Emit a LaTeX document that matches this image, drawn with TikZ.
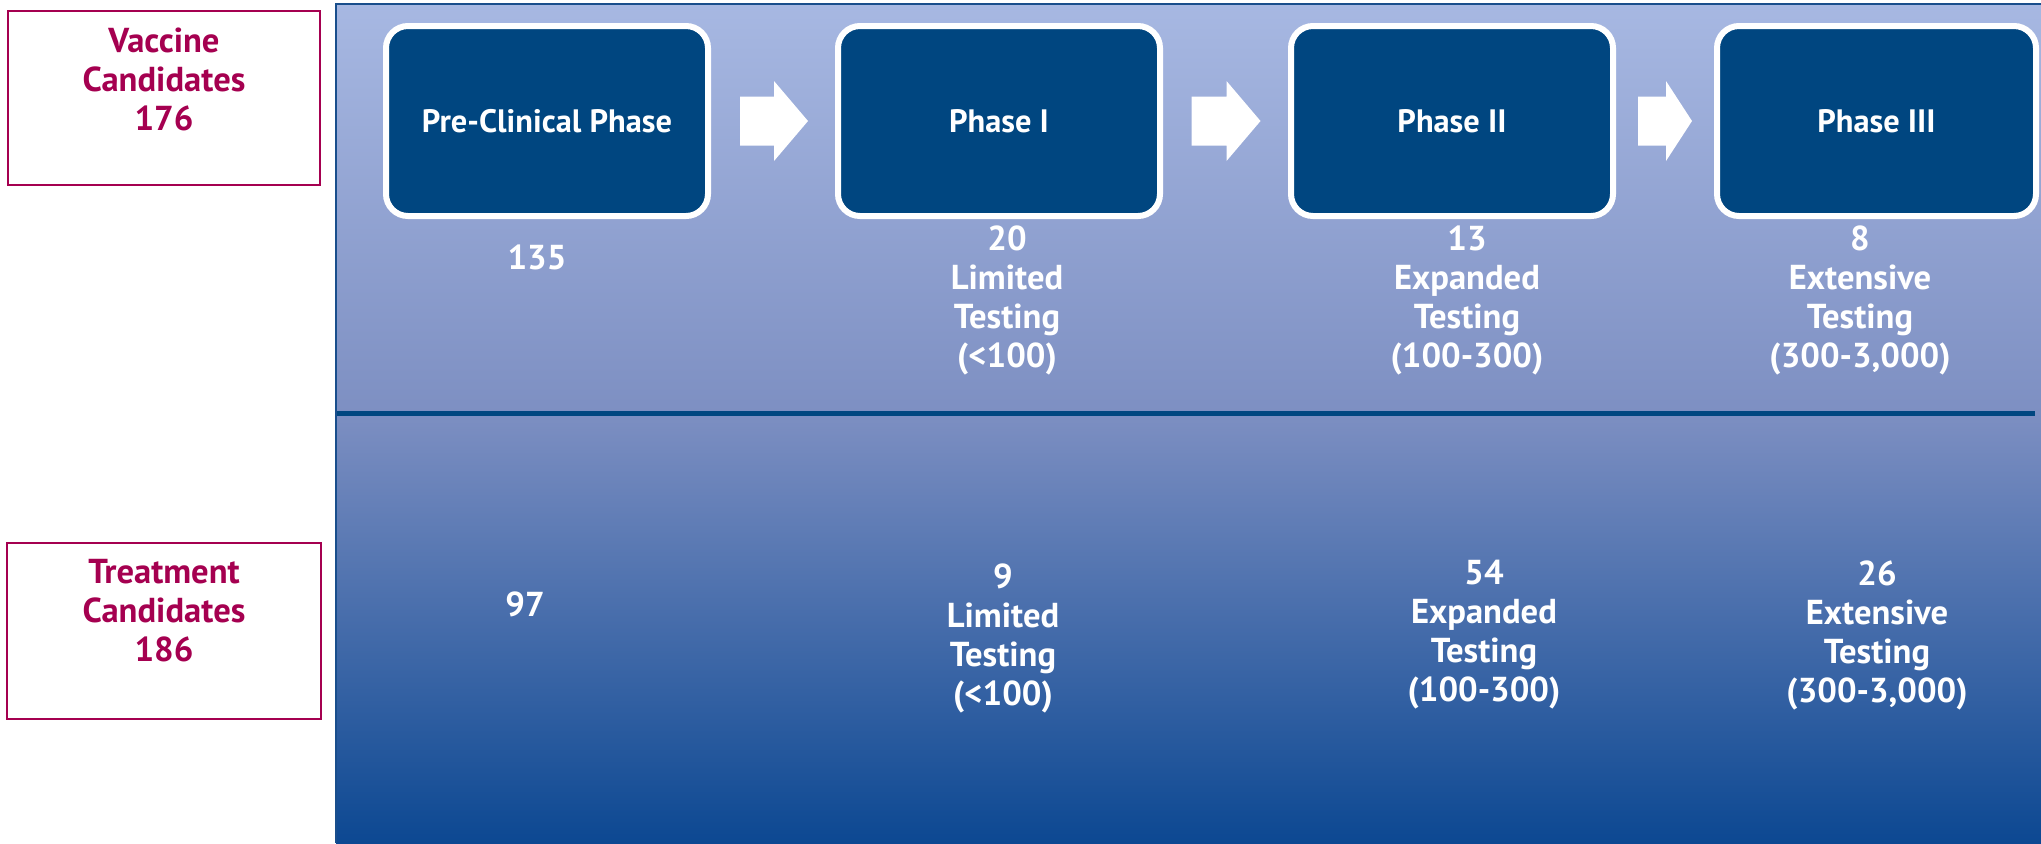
\documentclass[tikz,border=0pt]{standalone}
\usepackage{fontspec}
\setmainfont{PT Sans}
\usetikzlibrary{calc}
\definecolor{magent}{RGB}{165,0,80}
\definecolor{phaseblue}{RGB}{0,70,128}
\definecolor{ptop}{RGB}{167,184,226}
\definecolor{pmid}{RGB}{125,143,194}
\definecolor{pbot}{RGB}{12,72,146}
\definecolor{pedge}{RGB}{25,78,140}
\tikzset{
  candbox/.style={draw=magent, line width=1pt, inner sep=0pt},
  candtext/.style={text=magent, font=\fontsize{17.3}{19.5}\selectfont\bfseries, align=center, inner sep=0pt},
  phasebox/.style={draw=white, line width=3pt, fill=phaseblue, rounded corners=11pt,
    minimum width=161pt, minimum height=95pt, inner sep=0pt, text=white,
    font=\fontsize{16.2}{18}\selectfont\bfseries},
  stat/.style={text=white, font=\fontsize{17.3}{19.5}\selectfont\bfseries, align=center, inner sep=0pt},
  blockfill/.style={fill=white}
}
\begin{document}
\begin{tikzpicture}[x=0.5pt,y=-0.5pt]
\useasboundingbox (0,0) rectangle (2041,843);
\fill[white] (0,0) rectangle (2041,843);
% panel background
\shade[top color=ptop, bottom color=pmid] (336,4) rectangle (2041,414);
\shade[top color=pmid, bottom color=pbot] (336,413) rectangle (2041,843);
\draw[pedge, line width=1pt] (336,843) -- (336,4) -- (2041,4);
% divider
\draw[phaseblue, line width=2.5pt] (337,413.5) -- (2035,413.5);
% candidate boxes
\node[candbox, minimum width=156pt, minimum height=87pt] (vacbox) at (164,98) {};
\node[candtext] (vactext) at (164,79) {Vaccine\\Candidates\\176};
\node[candbox, minimum width=157pt, minimum height=88pt] (trebox) at (164,631) {};
\node[candtext] (tretext) at (164,611) {Treatment\\Candidates\\186};
% phase boxes
\node[phasebox] (pre) at (547,121) {Pre-Clinical Phase};
\node[phasebox] (p1) at (999,121) {Phase I};
\node[phasebox] (p2) at (1452,121) {Phase II};
\node[phasebox, minimum width=159.5pt] (p3) at (1876.5,121) {Phase III};
% block arrows
\coordinate (a1) at ($(pre.east)!0.5!(p1.west)+(1,0)$);
\coordinate (a2) at ($(p1.east)!0.5!(p2.west)+(1,0)$);
\coordinate (a3) at ($(p2.east)!0.5!(p3.west)+(1,0)$);
\foreach \c/\s/\h in {a1/34/34, a2/35/34, a3/28/26}{
  \fill[blockfill] ($(\c)+(-\s,-24.5)$) -- ($(\c)+(0,-24.5)$) -- ($(\c)+(0,-40)$)
    -- ($(\c)+(\h,0)$) -- ($(\c)+(0,40)$) -- ($(\c)+(0,24.5)$) -- ($(\c)+(-\s,24.5)$) -- cycle;
}
% vaccine stats
\node[stat] (v0) at (537,257) {135};
\node[stat] (v1) at (1007,300) {20\\Limited\\Testing\\(<100)};
\node[stat] (v2) at (1467,300) {13\\Expanded\\Testing\\(100-300)};
\node[stat] (v3) at (1860,300) {8\\Extensive\\Testing\\(300-3,000)};
% treatment stats
\node[stat] (t0) at (525,604) {97};
\node[stat] (t1) at (1003,638) {9\\Limited\\Testing\\(<100)};
\node[stat] (t2) at (1484,635) {54\\Expanded\\Testing\\(100-300)};
\node[stat] (t3) at (1877,635) {26\\Extensive\\Testing\\(300-3,000)};
\end{tikzpicture}
\end{document}
